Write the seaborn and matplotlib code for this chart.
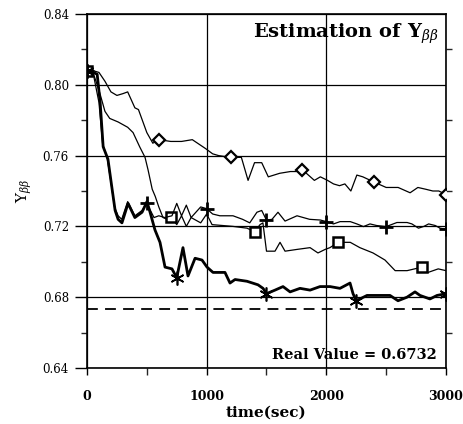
import numpy as np
import matplotlib
matplotlib.use("Agg")
import matplotlib.pyplot as plt
import seaborn as sns
from matplotlib.ticker import MultipleLocator, FixedLocator, FormatStrFormatter

# --- estimates of Y_bb over time (one array pair per estimator) ---
t_diamond = [0, 50, 100, 150, 200, 250, 300, 340, 400, 430, 500, 550, 600, 700, 790,
             880, 990, 1050, 1100, 1200, 1290, 1346, 1400, 1460, 1515, 1610, 1700, 1750,
             1800, 1900, 1950, 2010, 2060, 2110, 2155, 2205, 2255, 2305, 2400, 2500,
             2600, 2700, 2765, 2830, 2890, 2940, 3000]
y_diamond = [0.808, 0.808, 0.807, 0.802, 0.796, 0.794, 0.795, 0.796, 0.787, 0.786, 0.773,
             0.767, 0.769, 0.768, 0.768, 0.769, 0.764, 0.761, 0.760, 0.759, 0.759, 0.746,
             0.756, 0.756, 0.748, 0.750, 0.751, 0.751, 0.752, 0.746, 0.748, 0.746, 0.744,
             0.743, 0.744, 0.740, 0.749, 0.748, 0.745, 0.742, 0.742, 0.739, 0.742, 0.741,
             0.740, 0.740, 0.738]

t_plus = [0, 50, 100, 130, 170, 200, 230, 260, 290, 340, 400, 460, 500, 530, 560, 600,
          650, 710, 750, 790, 830, 870, 950, 1000, 1050, 1110, 1220, 1300, 1360, 1420,
          1460, 1500, 1546, 1596, 1655, 1755, 1860, 1950, 2000, 2060, 2115, 2200, 2255,
          2310, 2365, 2420, 2500, 2590, 2675, 2715, 2770, 2815, 2855, 2910, 2950, 3000]
y_plus = [0.808, 0.807, 0.790, 0.767, 0.758, 0.745, 0.731, 0.726, 0.724, 0.734, 0.726,
          0.729, 0.733, 0.729, 0.725, 0.726, 0.725, 0.726, 0.733, 0.726, 0.732, 0.725,
          0.731, 0.730, 0.727, 0.726, 0.726, 0.724, 0.722, 0.728, 0.729, 0.7235, 0.724,
          0.728, 0.723, 0.726, 0.724, 0.7236, 0.7227, 0.7214, 0.7227, 0.7227, 0.7214,
          0.7199, 0.7214, 0.7205, 0.7199, 0.7222, 0.7222, 0.7214, 0.7190, 0.7200,
          0.7214, 0.7205, 0.7190, 0.7183]

t_square = [0, 50, 100, 150, 190, 260, 340, 385, 440, 485, 510, 545, 570, 600, 635, 670,
            700, 750, 790, 830, 870, 950, 1000, 1045, 1220, 1337, 1400, 1446, 1470, 1500,
            1571, 1613, 1655, 1755, 1864, 1930, 1990, 2030, 2100, 2200, 2280, 2390, 2490,
            2575, 2675, 2800, 2850, 2935, 3000]
y_square = [0.808, 0.807, 0.797, 0.785, 0.781, 0.779, 0.776, 0.773, 0.765, 0.759, 0.752,
            0.741, 0.737, 0.731, 0.725, 0.724, 0.7255, 0.721, 0.726, 0.720, 0.725, 0.722,
            0.727, 0.721, 0.720, 0.719, 0.717, 0.721, 0.722, 0.706, 0.706, 0.711, 0.706,
            0.707, 0.708, 0.705, 0.707, 0.708, 0.711, 0.711, 0.708, 0.705, 0.701, 0.695,
            0.695, 0.697, 0.694, 0.696, 0.695]

t_star = [0, 50, 85, 110, 135, 175, 210, 235, 260, 292, 343, 400, 460, 501, 527, 568, 610,
          652, 710, 750, 802, 844, 903, 961, 1003, 1053, 1087, 1153, 1195, 1237, 1337,
          1429, 1471, 1500, 1571, 1638, 1697, 1780, 1864, 1947, 2031, 2114, 2198, 2223,
          2250, 2340, 2432, 2532, 2599, 2674, 2741, 2783, 2866, 2925, 3000]
y_star = [0.808, 0.807, 0.806, 0.790, 0.765, 0.758, 0.741, 0.729, 0.724, 0.722, 0.733,
          0.725, 0.728, 0.734, 0.728, 0.718, 0.711, 0.697, 0.696, 0.691, 0.708, 0.692,
          0.702, 0.701, 0.697, 0.694, 0.694, 0.694, 0.688, 0.690, 0.689, 0.687, 0.685,
          0.682, 0.684, 0.686, 0.683, 0.685, 0.684, 0.686, 0.686, 0.685, 0.688, 0.682,
          0.678, 0.681, 0.681, 0.681, 0.678, 0.680, 0.683, 0.681, 0.679, 0.681, 0.682]

# times at which each curve carries its symbol
marks_diamond = [0, 600, 1200, 1800, 2400, 3000]
marks_plus = [0, 500, 1000, 1500, 2000, 2500, 3000]
marks_square = [0, 700, 1400, 2100, 2800]
marks_star = [0, 750, 1500, 2250, 3000]

real_value = 0.6732
x_ticks = [0, 1000, 2000, 3000]
y_ticks = [0.64, 0.68, 0.72, 0.76, 0.80, 0.84]

sns.set_theme(style="white")
plt.rcParams["font.family"] = ["DejaVu Serif"]
plt.rcParams["mathtext.fontset"] = "dejavuserif"

fig = plt.figure(figsize=(4.64, 4.24), dpi=100)
ax = fig.add_axes([87 / 464, 1 - 368 / 424, (446 - 87) / 464, (368 - 14) / 424])


def every(t, marks):
    return [i for i, v in enumerate(t) if v in marks]


sns.lineplot(x=t_diamond, y=y_diamond, ax=ax, color="black", lw=0.9, errorbar=None,
             marker="D", markevery=every(t_diamond, marks_diamond), ms=6,
             mfc="white", mec="black", mew=1.6, zorder=4)
sns.lineplot(x=t_square, y=y_square, ax=ax, color="black", lw=0.9, errorbar=None,
             marker="s", markevery=every(t_square, marks_square), ms=6.5,
             mfc="white", mec="black", mew=1.8, zorder=4)
sns.lineplot(x=t_plus, y=y_plus, ax=ax, color="black", lw=0.9, errorbar=None,
             marker="+", markevery=every(t_plus, marks_plus), ms=10,
             mec="black", mew=2.0, zorder=5)
sns.lineplot(x=t_star, y=y_star, ax=ax, color="black", lw=2.0, errorbar=None,
             marker=(6, 2, 0), markevery=every(t_star, marks_star), ms=10,
             mec="black", mew=1.2, zorder=5)
sns.lineplot(x=[x_ticks[0], x_ticks[-1]], y=[real_value, real_value], ax=ax,
             color="black", lw=1.3, errorbar=None, dashes=False, zorder=3)
ax.lines[-1].set_dashes([6, 4])

ax.set_xlim(x_ticks[0], x_ticks[-1])
ax.set_ylim(y_ticks[0], y_ticks[-1])
ax.xaxis.set_major_locator(FixedLocator(x_ticks))
ax.yaxis.set_major_locator(FixedLocator(y_ticks))
ax.xaxis.set_minor_locator(MultipleLocator(500))
ax.yaxis.set_minor_locator(MultipleLocator(0.02))
ax.yaxis.set_major_formatter(FormatStrFormatter("%.2f"))

ax.grid(True, which="major", color="black", lw=0.9)
ax.set_axisbelow(True)
for side in ["left", "right", "top", "bottom"]:
    ax.spines[side].set_visible(True)
    ax.spines[side].set_color("black")
    ax.spines[side].set_linewidth(1.2)

ax.tick_params(axis="x", which="major", direction="out", length=5, width=1.0,
               pad=11, labelsize=9, colors="black", bottom=True)
ax.tick_params(axis="x", which="minor", direction="out", length=5, width=1.0,
               bottom=True)
ax.tick_params(axis="y", which="major", direction="out", length=9, width=1.0,
               pad=4, labelsize=8.5, colors="black", left=True)
ax.tick_params(axis="y", which="minor", direction="out", length=4, width=1.0,
               left=True, right=True)
for lab in ax.get_xticklabels():
    lab.set_fontweight("bold")

ax.set_xlabel("time(sec)", fontsize=11, fontweight="bold", labelpad=2, color="black")
ax.set_ylabel(r"Y$_{\beta\beta}$", fontsize=11, labelpad=6, color="black")

ax.text(2935, 0.8264, r"Estimation of Y$_{\beta\beta}$", ha="right", va="baseline",
        fontsize=14, fontweight="bold", color="black")
ax.text(2925, 0.6453, f"Real Value = {real_value:.4f}", ha="right", va="baseline",
        fontsize=10.5, fontweight="bold", color="black")

fig.savefig("out.png", dpi=100)
